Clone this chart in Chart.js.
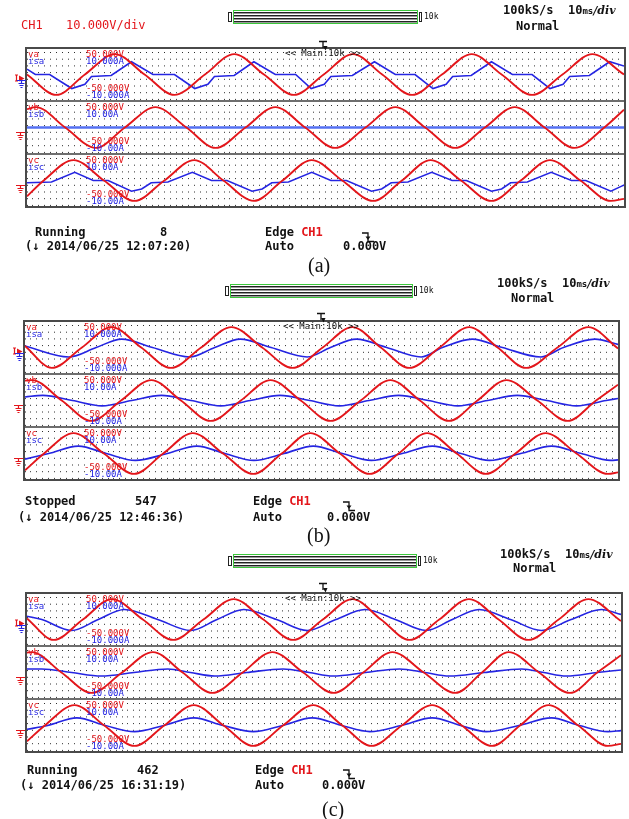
<!DOCTYPE html>
<html>
<head>
<meta charset="utf-8">
<script src="https://cdn.jsdelivr.net/npm/chart.js@4.4.1/dist/chart.umd.min.js"></script>
<style>
  body { margin: 0; background: #fff; }
  #page { position: relative; width: 629px; height: 819px; overflow: hidden; background: #fff;
          font-family: "DejaVu Sans Mono", "Liberation Mono", monospace; color: #111; }
  .t { position: absolute; white-space: pre; line-height: 1; }
  .big { font-size: 12px; font-weight: bold; }
  .hdr { font-size: 12px; }
  .small { font-size: 9px; }
  .tiny { font-size: 8px; }
  .red { color: #e3161b; }
  .blue { color: #2525e2; }
  .cap { font-family: "Liberation Serif", "Times New Roman", serif; font-size: 20px; color: #111; }
  .frame { position: absolute; border: 2px solid #4a4a4a; box-sizing: border-box; }
  .sep { position: absolute; left: 0; width: 100%; height: 2px; background: #6e6e6e; }
  .strip { position: absolute; left: 0; }
  canvas { display: block; }
  .bar { position: absolute; box-sizing: border-box; border: 1px solid #3cc83c;
         background: repeating-linear-gradient(to bottom, #fff 0, #fff 1px, #222 1px, #222 2px, #999 2px, #999 3px); }
  .brk { position: absolute; box-sizing: border-box; border: 1px solid #222; background: #fff; }
</style>
</head>
<body>
<div id="page"></div>
<script>
// time axis (ms) and channel ranges
const timeRange = [0, 100];
const voltRange = [-50, 50];
const ampRange = [-10, 10];

// channel labels
const chanV = ['va', 'vb', 'vc'];
const chanI = ['isa', 'isb', 'isc'];
const voltTop = '50.000V';
const voltBot = '-50.000V';
const ampTop = ['10.000A', '10.00A', '10.00A'];
const ampBot = ['-10.000A', '-10.00A', '-10.00A'];

// status lines
const captions = ['(a)', '(b)', '(c)'];
const statusText = ['Running', 'Stopped', 'Running'];
const counts = ['8', '547', '462'];
const stamps = ['(\u2193 2014/06/25 12:07:20)', '(\u2193 2014/06/25 12:46:36)', '(\u2193 2014/06/25 16:31:19)'];

// (a) voltages [ms, V] and currents [ms, A]
const vaA = [[0,0],[4.9,-40],[9.7,0],[14.7,40],[19.7,0],[24.7,-40],[29.8,0],[34.7,40],[39.7,0],[44.7,-40],[49.7,0],[54.6,40],[59.5,0],[64.5,-40],[69.5,0],[74.5,40],[79.5,0],[84.6,-40],[89.7,0],[94.7,40],[100,0]];
const isaA = [[0,2.1],[1.4,0],[3.8,0],[7.5,-5.5],[9.7,-3.8],[10.8,-0.8],[14.1,-0.4],[17.5,5.0],[21.1,0],[24.7,0],[28.1,-5.5],[30.3,-3.8],[31.4,-0.8],[34.7,-0.4],[38.0,5.0],[41.6,0],[45.0,0],[47.6,-5.5],[49.8,-3.8],[50.9,-0.8],[54.5,-0.4],[58.2,5.0],[61.7,0],[65.0,0],[68.0,-5.5],[70.2,-3.8],[71.3,-0.8],[74.4,-0.4],[77.8,5.0],[81.3,0],[84.6,0],[87.6,-5.5],[89.8,-3.8],[90.9,-0.8],[94.2,-0.4],[97.6,5.0],[100,3.3]];
const vbA = [[0,36],[1.5,40],[6.4,0],[11.5,-40],[16.4,0],[21.5,40],[26.7,0],[31.6,-40],[36.6,0],[41.6,40],[46.6,0],[51.6,-40],[56.7,0],[61.7,40],[66.7,0],[71.7,-40],[76.7,0],[81.7,40],[86.7,0],[91.7,-40],[96.7,0],[100,35]];
const isbA = [[0,0],[100,0]];
const vcA = [[0,-31],[2.8,0],[7.8,40],[12.9,0],[18,-40],[23,0],[28,40],[32.9,0],[38,-40],[42.8,0],[47.7,40],[52.8,0],[58,-40],[62.8,0],[67.6,40],[72.7,0],[77.8,-40],[82.7,0],[87.6,40],[92.7,0],[97.8,-40],[100,-36]];
const iscA = [[0,-0.9],[4.1,-0.6],[8,3.2],[11.1,0],[13.6,0],[17.5,-4.2],[19.2,-3.3],[20.8,-0.9],[23.6,-0.6],[27.7,3.2],[30.9,0],[33.5,0],[37.7,-4.2],[39.4,-3.3],[41,-0.9],[43.8,-0.6],[47.7,3.2],[50.9,0],[53.5,0],[57.7,-4.2],[59.4,-3.3],[61,-0.9],[63.8,-0.6],[67.8,3.2],[71.2,0],[73.6,0],[77.8,-4.2],[79.5,-3.3],[81,-0.9],[83.8,-0.6],[87.8,3.2],[91.2,0],[93.6,0],[97.8,-4.2],[99.7,-2.1],[100,-1.8]];

// (b)
const vaB = [[0,3],[4.5,-40],[9.6,0],[14.6,40],[19.6,0],[24.6,-40],[29.7,0],[34.8,40],[40,0],[45.1,-40],[50.2,0],[55.2,40],[60,0],[64.8,-40],[69.9,0],[74.9,40],[79.7,0],[84.5,-40],[89.8,0],[95,40],[100,-2]];
const isaB = [[0,0.6],[7.4,-3.7],[12,0],[16.3,3.3],[21.5,0],[27.8,-3.7],[32,0],[36.3,3.3],[41.5,0],[47.6,-3.7],[51.5,0],[55.9,3.3],[61,0],[66.8,-3.7],[70.4,0],[75.4,3.3],[80.5,0],[87,-3.7],[90.8,0],[96.1,3.3],[100,1.2]];
const vbB = [[0,39],[1.2,40],[6.2,0],[11.2,-40],[16.2,0],[21.3,40],[26.3,0],[31.3,-40],[36.4,0],[41.4,40],[46.5,0],[51.5,-40],[56.6,0],[61.6,40],[66.6,0],[71.5,-40],[76.3,0],[81.2,40],[86.4,0],[91.5,-40],[96.3,0],[100,31]];
const isbB = [[0,1.4],[3,2],[8,0],[13,-2.1],[18,0],[23,2],[28,0],[33,-2.1],[38,0],[43,2],[48,0],[53,-2.1],[58,0],[63,2],[68,0],[73,-2.1],[78,0],[83,2],[88,0],[93,-2.1],[98,0],[100,0.8]];
const vcB = [[0,-33],[3.2,0],[8.2,40],[13.3,0],[18.4,-40],[23.3,0],[28.3,40],[33.4,0],[38.5,-40],[43.3,0],[48.1,40],[53.1,0],[58.1,-40],[63,0],[67.8,40],[72.8,0],[77.7,-40],[82.7,0],[87.8,40],[93,0],[98.3,-40],[100,-37]];
const iscB = [[0,-2.2],[4,0],[9,2.9],[13.7,0],[18.6,-2.7],[24,0],[29,2.9],[33.7,0],[38.6,-2.7],[43.7,0],[48.6,2.9],[53.5,0],[58.4,-2.7],[63.6,0],[68.7,2.9],[73.5,0],[78.3,-2.7],[83.6,0],[88.8,2.9],[93.8,0],[98.8,-2.7],[100,-2.5]];

// (c)
const vaC = [[0,2],[4.5,-40],[9.4,0],[14.3,40],[19.5,0],[24.6,-40],[29.7,0],[34.8,40],[39.8,0],[44.8,-40],[49.8,0],[54.8,40],[59.6,0],[64.4,-40],[69.4,0],[74.4,40],[79.4,0],[84.4,-40],[89.5,0],[94.5,40],[100,-3]];
const isaC = [[0,1.3],[2.5,0],[7.5,-4.3],[12,0],[16.4,3.9],[22,0],[27.6,-4.3],[32,0],[36.5,3.9],[42,0],[47.2,-4.3],[52,0],[56.9,3.9],[62,0],[67.2,-4.3],[71.6,0],[76.1,3.9],[81.4,0],[86.6,-4.3],[91.6,0],[96.7,3.9],[100,2]];
const vbC = [[0,39],[0.8,40],[5.8,0],[10.9,-40],[16,0],[21.2,40],[26.2,0],[31.2,-40],[36.3,0],[41.3,40],[46.5,0],[51.6,-40],[56.6,0],[61.5,40],[66.8,0],[72.1,-40],[76.6,0],[81.1,40],[86.2,0],[91.4,-40],[96,0],[100,34]];
const isbC = [[0,1.4],[2.5,1.4],[7.5,0],[12.5,-1.4],[18,0],[23.7,1.4],[27.5,0],[31.6,-1.4],[37,0],[43.1,1.4],[47.5,0],[51.5,-1.4],[57,0],[62.7,1.4],[67,0],[71.1,-1.4],[77,0],[83.3,1.4],[87,0],[90.8,-1.4],[96,0],[100,1]];
const vcC = [[0,-31],[3,0],[8,40],[13,0],[18.1,-40],[23.1,0],[28.1,40],[33.1,0],[38.1,-40],[43.1,0],[48.2,40],[53.1,0],[58,-40],[63.1,0],[68.2,40],[73.2,0],[78.3,-40],[83,0],[87.8,40],[92.8,0],[97.8,-40],[100,-36]];
const iscC = [[0,-1.5],[3.5,0],[8.4,3],[13.2,0],[18.1,-2.4],[23,0],[28.1,3],[33,0],[38.1,-2.4],[43,0],[48,3],[53,0],[57.7,-2.4],[63,0],[68.2,3],[73,0],[77.3,-2.4],[82.8,0],[88.3,3],[93,0],[97.8,-2.4],[100,-2]];

const RED = '#e3161b';
const BLUE = '#2525e2';

// screen placement of each scope capture
const panels = [
  { volts: [vaA, vbA, vcA], amps: [isaA, isbA, iscA], stepped: [true, false, true], flat: [false, true, false],
    L: 25, T: 47, W: 601, H: 161, ch1: true,
    barX: 233, barY: 10, barW: 185, rateX: 503, rateY: 3.5, normX: 516, normY: 19.5, trigX: 318, trigY: 36,
    stX: 35, stY: 226, cntX: 160, dateX: 25, dateY: 240, edgeX: 265, symX: 362, zeroX: 343, capX: 308, capY: 255 },
  { volts: [vaB, vbB, vcB], amps: [isaB, isbB, iscB], stepped: [false, false, false], flat: [false, false, false],
    L: 23, T: 320, W: 597, H: 161, ch1: false,
    barX: 230, barY: 284, barW: 183, rateX: 497, rateY: 276.5, normX: 511, normY: 291.5, trigX: 316, trigY: 308,
    stX: 25, stY: 495, cntX: 135, dateX: 18, dateY: 510.5, edgeX: 253, symX: 343, zeroX: 327, capX: 307, capY: 525 },
  { volts: [vaC, vbC, vcC], amps: [isaC, isbC, iscC], stepped: [false, false, false], flat: [false, false, false],
    L: 25, T: 592, W: 598, H: 161, ch1: false,
    barX: 233, barY: 554, barW: 184, rateX: 500, rateY: 547.5, normX: 513, normY: 561.5, trigX: 318, trigY: 578,
    stX: 27, stY: 763.5, cntX: 137, dateX: 20, dateY: 778.5, edgeX: 255, symX: 343, zeroX: 322, capX: 322, capY: 799 }
];

const page = document.getElementById('page');

var text = function(x, y, str, cls, html) {
  var d = document.createElement('div');
  d.className = 't ' + cls;
  d.style.left = x + 'px';
  d.style.top = y + 'px';
  if (html) d.innerHTML = str; else d.textContent = str;
  page.appendChild(d);
  return d;
};

var box = function(cls, x, y, w, h) {
  var d = document.createElement('div');
  d.className = cls;
  d.style.left = x + 'px';
  d.style.top = y + 'px';
  d.style.width = w + 'px';
  d.style.height = h + 'px';
  page.appendChild(d);
  return d;
};

var svg = function(x, y, w, h, inner) {
  var d = document.createElement('div');
  d.style.position = 'absolute';
  d.style.left = x + 'px';
  d.style.top = y + 'px';
  d.innerHTML = '<svg width="' + w + '" height="' + h + '" viewBox="0 0 ' + w + ' ' + h + '">' + inner + '</svg>';
  page.appendChild(d);
};

var groundMark = function(color) {
  return '<g stroke="' + color + '" stroke-width="1.2" fill="none">' +
    '<path d="M0 1.5H9M4.5 1.5V4.5M1.5 4.5H7.5M2.5 6.5H6.5M3.5 8.5H5.5"/></g>';
};

var toXY = function(pairs) {
  return pairs.map(function(p) { return { x: p[0], y: p[1] }; });
};

// one chart per trace strip
var drawStrip = function(holder, w, h, volts, amps, stepped, flat) {
  var c = document.createElement('canvas');
  c.width = w; c.height = h;
  c.style.width = w + 'px'; c.style.height = h + 'px';
  holder.appendChild(c);
  new Chart(c, {
    type: 'line',
    data: {
      datasets: [{
        data: toXY(volts),
        yAxisID: 'yv',
        borderColor: RED,
        borderWidth: 1.9,
        pointRadius: 0,
        cubicInterpolationMode: 'monotone'
      }, {
        data: toXY(amps),
        yAxisID: 'yi',
        borderColor: flat ? '#5470f2' : BLUE,
        borderWidth: flat ? 2.4 : 1.6,
        pointRadius: 0,
        tension: 0,
        cubicInterpolationMode: stepped ? 'default' : 'monotone'
      }]
    },
    options: {
      responsive: false,
      animation: false,
      events: [],
      layout: { padding: 0, autoPadding: false },
      plugins: { legend: { display: false }, tooltip: { enabled: false } },
      scales: {
        x: {
          type: 'linear', min: timeRange[0], max: timeRange[1],
          ticks: { display: false, stepSize: 1 },
          grid: { color: '#2e2e2e', lineWidth: 1, drawTicks: false },
          border: { display: false, dash: [1, 5.7], dashOffset: -3 }
        },
        yv: { min: voltRange[0], max: voltRange[1], display: false },
        yi: { min: ampRange[0], max: ampRange[1], display: false }
      }
    }
  });
};

panels.forEach(function(p, k) {
  // frame with three strips
  var frame = box('frame', p.L, p.T, p.W, p.H);
  var inner = p.W - 4;
  var sh = (p.H - 4 - 4) / 3;
  for (var i = 0; i < 3; i++) {
    var top = i * (sh + 2);
    if (i > 0) {
      var s = document.createElement('div');
      s.className = 'sep';
      s.style.top = (top - 2) + 'px';
      frame.appendChild(s);
    }
    var holder = document.createElement('div');
    holder.className = 'strip';
    holder.style.top = top + 'px';
    holder.style.width = inner + 'px';
    holder.style.height = sh + 'px';
    frame.appendChild(holder);
    drawStrip(holder, inner, Math.round(sh), p.volts[i], p.amps[i], p.stepped[i], p.flat[i]);

    // strip labels
    var lt = p.T + 1 + i * (sh + 2);
    text(p.L + 3, lt + 2, chanV[i], 'small red');
    text(p.L + 3, lt + 8.5, chanI[i], 'small blue');
    text(p.L + 61, lt + 1.5, voltTop, 'small red');
    text(p.L + 61, lt + 8.5, ampTop[i], 'small blue');
    text(p.L + 61, lt + 35.5, voltBot, 'small red');
    text(p.L + 61, lt + 42.5, ampBot[i], 'small blue');

    // zero markers at the left
    var yc = p.T + 2 + top + sh / 2;
    if (i === 0) {
      svg(p.L - 10, yc - 8, 10, 8, '<path d="M1.5 1V7M0 1H3M0 7H3" stroke="' + RED + '" stroke-width="1.2" fill="none"/>' +
        '<path d="M4 1.5L9.5 4.5L4 7.5Z" fill="' + RED + '"/>');
      svg(p.L - 8, yc - 1, 10, 10, groundMark(BLUE));
    } else {
      svg(p.L - 9, yc - 1.5, 10, 10, groundMark(RED));
    }
  }
  text(p.L + 260, p.T + 2, '<< Main:10k >>', 'small');

  // header
  if (p.ch1) {
    text(21, 18.5, 'CH1', 'hdr red');
    text(66, 18.5, '10.000V/div', 'hdr red');
  }
  box('brk', p.barX - 5, p.barY + 2, 4, 10);
  box('bar', p.barX, p.barY, p.barW, 14);
  box('brk', p.barX + p.barW + 1, p.barY + 2, 3, 10);
  text(p.barX + p.barW + 6, p.barY + 3, '10k', 'tiny');
  text(p.rateX, p.rateY, '100kS/s', 'big');
  text(p.rateX + 65, p.rateY, '10<span style="font-size:9px">ms</span><span style="font-family:\'DejaVu Serif\',serif;font-style:italic;font-size:11px">/div</span>', 'big', true);
  text(p.normX, p.normY, 'Normal', 'big');
  svg(p.trigX, p.trigY, 12, 11, '<path d="M1 1.5H9M5 1.5V8" stroke="#111" stroke-width="1.3" fill="none"/>' +
    '<path d="M5 6L9.5 6L7.5 10.5Z" fill="#111"/>');

  // footer
  text(p.stX, p.stY, statusText[k], 'big');
  text(p.cntX, p.stY, counts[k], 'big');
  text(p.dateX, p.dateY, stamps[k], 'big');
  text(p.edgeX, p.stY, 'Edge <span class="red">CH1</span>', 'big', true);
  svg(p.symX, p.stY + 1.5, 13, 11, '<path d="M0 1H6V9.5H12" stroke="#111" stroke-width="1.3" fill="none"/>' +
    '<path d="M3.5 4.5H8.5L6 8Z" fill="#111"/>');
  text(p.edgeX, p.dateY, 'Auto', 'big');
  text(p.zeroX, p.dateY, '0.000V', 'big');
  text(p.capX, p.capY, captions[k], 'cap');
});
</script>
</body>
</html>
